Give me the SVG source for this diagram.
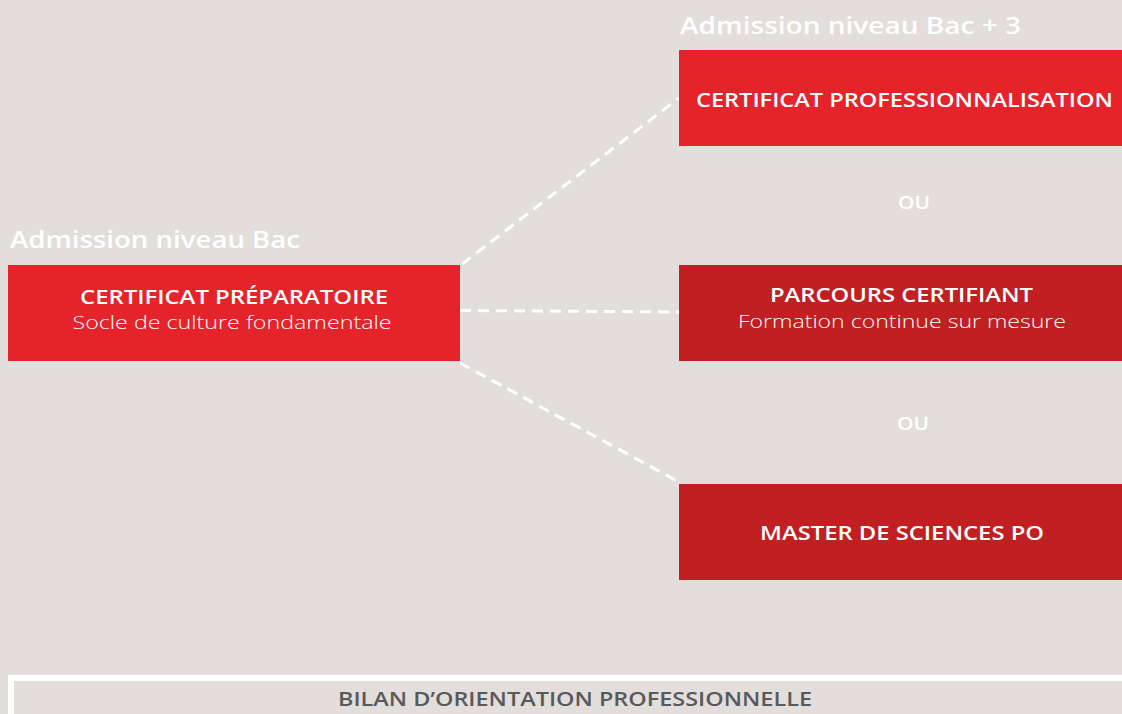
<svg xmlns="http://www.w3.org/2000/svg" width="1122" height="714" viewBox="0 0 1122 714">
<style>
.t{font-family:"Open Sans","Liberation Sans",sans-serif;fill:#fff}
.h{font-size:24px;font-weight:600}
.b{font-size:19px;font-weight:600;text-anchor:middle}
.s{font-size:19px;font-weight:300;text-anchor:middle}
.ou{font-size:18px;font-weight:600;text-anchor:middle}
.conn{stroke:#fff;stroke-width:3;stroke-dasharray:11 7;fill:none}
</style>
<rect width="1122" height="714" fill="#E3DDDB"/>
<text class="t h" x="10" y="248" textLength="290" lengthAdjust="spacingAndGlyphs">Admission niveau Bac</text>
<text class="t h" x="680" y="34" textLength="341" lengthAdjust="spacingAndGlyphs">Admission niveau Bac + 3</text>
<g id="connectors">
<line class="conn" x1="462" y1="264" x2="679" y2="98"/>
<line class="conn" x1="460" y1="310.5" x2="679" y2="312"/>
<line class="conn" x1="460" y1="363" x2="679" y2="482"/>
</g>
<g id="certificat-preparatoire">
<rect x="8" y="265" width="452" height="96" fill="#E5232A"/>
<text class="t b" x="234" y="304" textLength="308" lengthAdjust="spacingAndGlyphs">CERTIFICAT PRÉPARATOIRE</text>
<text class="t s" x="232" y="329" textLength="319" lengthAdjust="spacingAndGlyphs">Socle de culture fondamentale</text>
</g>
<g id="certificat-professionnalisation">
<rect x="679" y="50" width="443" height="96" fill="#E5232A"/>
<text class="t b" x="904.5" y="107" textLength="417" lengthAdjust="spacingAndGlyphs">CERTIFICAT PROFESSIONNALISATION</text>
</g>
<text class="t ou" x="914" y="209" textLength="32" lengthAdjust="spacingAndGlyphs">OU</text>
<g id="parcours-certifiant">
<rect x="679" y="265" width="443" height="96" fill="#C02022"/>
<text class="t b" x="901.5" y="302" textLength="263" lengthAdjust="spacingAndGlyphs">PARCOURS CERTIFIANT</text>
<text class="t s" x="902" y="328" textLength="328" lengthAdjust="spacingAndGlyphs">Formation continue sur mesure</text>
</g>
<text class="t ou" x="913" y="430" textLength="32" lengthAdjust="spacingAndGlyphs">OU</text>
<g id="master">
<rect x="679" y="484" width="443" height="96" fill="#C02022"/>
<text class="t b" x="902" y="540" textLength="284" lengthAdjust="spacingAndGlyphs">MASTER DE SCIENCES PO</text>
</g>
<g id="bilan">
<rect x="11" y="678" width="1120" height="60" fill="none" stroke="#fff" stroke-width="6"/>
<text class="t b" x="575" y="706" style="fill:#58595B" textLength="474" lengthAdjust="spacingAndGlyphs">BILAN D’ORIENTATION PROFESSIONNELLE</text>
</g>
</svg>
